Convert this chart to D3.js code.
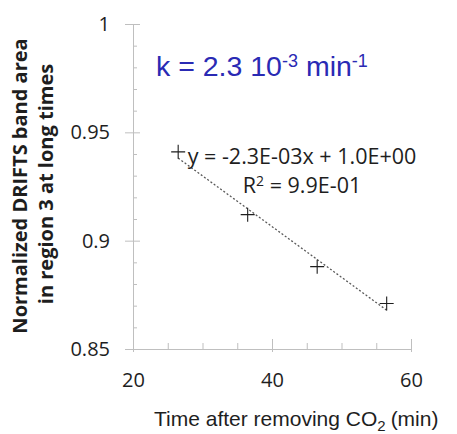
<!DOCTYPE html>
<html>
<head>
<meta charset="utf-8">
<script src="https://cdn.jsdelivr.net/npm/d3@7"></script>
<style>
  body{margin:0;background:#fff;}
</style>
</head>
<body>
<div id="chart"></div>
<script>
// data
var times = [26.5, 36.5, 46.5, 56.5];          // min after removing CO2
var areas = [0.941, 0.912, 0.888, 0.871];      // normalized band area
var xTicks = [20, 40, 60];
var yTicks = [0.85, 0.9, 0.95, 1];
var xMinor = [25, 30, 35, 45, 50, 55];
var yMinor = [0.86, 0.87, 0.88, 0.89, 0.91, 0.92, 0.93, 0.94, 0.96, 0.97, 0.98, 0.99];

var W = 457, H = 434;
var plot = {left:133, right:411, top:24, bottom:349};
var axisCol = '#bfbfbf';
var textCol = '#1e1e1e';
var tickFont = '"Open Sans", sans-serif';

var svg = d3.select('#chart').append('svg')
  .attr('width', W).attr('height', H)
  .style('font-family', tickFont);

var x = d3.scaleLinear().domain([20, 60]).range([plot.left, plot.right]);
var y = d3.scaleLinear().domain([0.85, 1]).range([plot.bottom, plot.top]);

//minor ticks, inside
svg.append('g')
  .attr('transform', 'translate(' + plot.left + ',0)')
  .call(d3.axisLeft(y).tickValues(yMinor).tickSize(-4).tickFormat(''))
  .call(g => g.select('.domain').remove())
  .call(g => g.selectAll('.tick line').attr('stroke', axisCol));
svg.append('g')
  .attr('transform', 'translate(0,' + plot.bottom + ')')
  .call(d3.axisBottom(x).tickValues(xMinor).tickSize(-6).tickFormat(''))
  .call(g => g.select('.domain').remove())
  .call(g => g.selectAll('.tick line').attr('stroke', axisCol));

//Y axis, major ticks cross the line
svg.append('g')
  .attr('id', 'yAxis')
  .attr('transform', 'translate(' + plot.left + ',0)')
  .call(d3.axisLeft(y).tickValues(yTicks).tickSize(8).tickPadding(15).tickSizeOuter(0)
        .tickFormat(d => d3.format('')(+d.toFixed(2))))
  .call(g => g.select('.domain').attr('stroke', axisCol))
  .call(g => g.selectAll('.tick line').attr('stroke', axisCol).attr('x1', 7))
  .call(g => g.selectAll('.tick text').attr('fill', textCol)
        .style('font-size', '20px').style('font-family', tickFont));

//X axis
svg.append('g')
  .attr('id', 'xAxis')
  .attr('transform', 'translate(0,' + plot.bottom + ')')
  .call(d3.axisBottom(x).tickValues(xTicks).tickSize(3).tickPadding(21).tickSizeOuter(0))
  .call(g => g.select('.domain').attr('stroke', axisCol))
  .call(g => g.selectAll('.tick line').attr('stroke', axisCol).attr('y1', -10))
  .call(g => g.selectAll('.tick text').attr('fill', textCol)
        .style('font-size', '20px').style('font-family', tickFont));

//linear fit of the points
var mx = d3.mean(times), my = d3.mean(areas);
var slope = d3.sum(times, (t, i) => (t - mx) * (areas[i] - my)) / d3.sum(times, t => (t - mx) * (t - mx));
var icpt = my - slope * mx;
var ext = d3.extent(times);
svg.append('line')
  .attr('x1', x(ext[0])).attr('y1', y(slope * ext[0] + icpt))
  .attr('x2', x(ext[1])).attr('y2', y(slope * ext[1] + icpt))
  .attr('stroke', '#595959')
  .attr('stroke-width', 1.3)
  .attr('stroke-dasharray', '2,2');

//points drawn as '+'
svg.append('g').selectAll('path')
  .data(times.map((t, i) => [t, areas[i]]))
  .join('path')
    .attr('transform', d => 'translate(' + x(d[0]) + ',' + y(d[1]) + ')')
    .attr('d', 'M-7,0H7M0,-7V7')
    .attr('stroke', textCol)
    .attr('stroke-width', 1.1)
    .attr('fill', 'none');

//trendline equation
var eq = svg.append('g')
  .attr('fill', textCol)
  .style('font-family', tickFont)
  .style('font-size', '21.5px')
  .attr('text-anchor', 'middle');
eq.append('text').attr('x', 302).attr('y', 164).text('y = -2.3E-03x + 1.0E+00');
var r2 = eq.append('text').attr('x', 302).attr('y', 193);
r2.append('tspan').text('R');
r2.append('tspan').attr('dy', -7).style('font-size', '14px').text('2');
r2.append('tspan').attr('dy', 7).text(' = 9.9E-01');

//rate constant label
var k = svg.append('text')
  .attr('x', 156).attr('y', 76)
  .attr('fill', '#2a2ab4')
  .style('font-family', '"Liberation Sans", Arial, sans-serif')
  .style('font-size', '28.5px');
k.append('tspan').text('k = 2.3 10');
k.append('tspan').attr('dy', -9).style('font-size', '18px').text('-3');
k.append('tspan').attr('dy', 9).text(' min');
k.append('tspan').attr('dy', -9).style('font-size', '18px').text('-1');

//Y title, two lines
var yt = svg.append('text')
  .attr('transform', 'rotate(-90)')
  .attr('text-anchor', 'middle')
  .attr('fill', textCol)
  .style('font-weight', 'bold')
  .style('font-size', '20px');
yt.append('tspan').attr('x', -186).attr('y', 27).text('Normalized DRIFTS band area');
yt.append('tspan').attr('x', -184).attr('y', 53).text('in region 3 at long times');

//X title
var xt = svg.append('text')
  .attr('x', 154).attr('y', 426)
  .attr('fill', textCol)
  .style('font-family', '"Liberation Sans", Arial, sans-serif')
  .style('font-size', '21px');
xt.append('tspan').text('Time after removing CO');
xt.append('tspan').attr('dy', 5).style('font-size', '15px').text('2');
xt.append('tspan').attr('dy', -5).attr('dx', 5).text('(min)');
</script>
</body>
</html>
